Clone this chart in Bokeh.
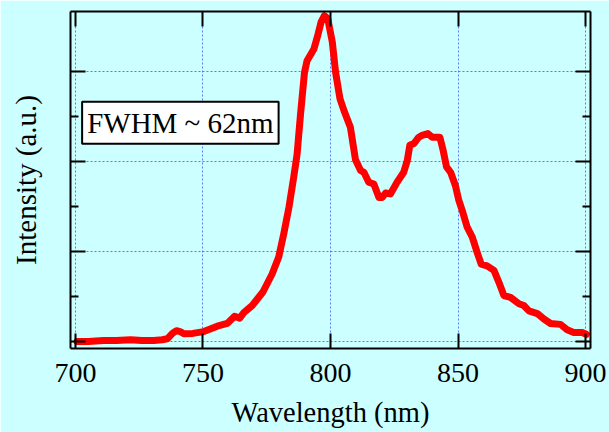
from bokeh.plotting import figure
from bokeh.models import (LinearAxis, FixedTicker, Range1d, Label, ColumnDataSource,
                          CustomJSTickFormatter)
from bokeh.embed import file_html
from bokeh.resources import INLINE

wavelength = [700.6, 705, 711, 716, 721.6, 726, 730.7, 734, 736, 738, 739.6, 741, 742.5, 746,
              750.3, 755.6, 759.5, 762.4, 764.4, 766, 769.3, 773.5, 777.1, 779.7, 781.7, 783.7,
              785.6, 786.9, 788.2, 789.8, 790.8, 793.5, 794.8, 796.3, 797.6, 798.9, 800.7, 802,
              803.7, 805.5, 807.8, 809.8, 811.8, 813.1, 815.0, 817, 819, 820.3, 821.6, 823.5,
              826.1, 828.7, 830.1, 831.1, 832.7, 834.6, 835.9, 838.2, 839.9, 842.9, 844.2, 845.5,
              847.1, 849.0, 850.3, 851.6, 853.6, 855.6, 857.5, 859.1, 861.4, 864.1, 866, 868,
              870.6, 873.9, 875.8, 877.8, 881.1, 883.7, 886.3, 890.2, 892.8, 895.4, 898.7, 900.3]
intensity = [0.0, 0.0, 0.01, 0.01, 0.02, 0.01, 0.01, 0.02, 0.03, 0.09, 0.12, 0.11, 0.085, 0.09,
             0.11, 0.17, 0.2, 0.28, 0.26, 0.32, 0.4, 0.55, 0.75, 0.94, 1.2, 1.49,
             1.83, 2.08, 2.51, 2.99, 3.12, 3.25, 3.38, 3.55, 3.62, 3.59, 3.33, 2.99,
             2.70, 2.55, 2.38, 2.02, 1.90, 1.88, 1.77, 1.75, 1.60, 1.60, 1.65, 1.64,
             1.77, 1.88, 2.01, 2.18, 2.20, 2.27, 2.29, 2.31, 2.27, 2.27, 2.12, 1.94,
             1.88, 1.73, 1.57, 1.46, 1.27, 1.16, 0.99, 0.86, 0.84, 0.79, 0.66, 0.51,
             0.49, 0.42, 0.40, 0.34, 0.31, 0.25, 0.20, 0.19, 0.13, 0.10, 0.10, 0.08]

x_ticks = [700, 750, 800, 850, 900]
y_major = [0, 1, 2, 3]
y_minor = [0.5, 1.5, 2.5]
annotation = "FWHM ~ 62nm"

BG = "#ccffff"
FONT = "Liberation Serif"
GRID = "#5878ff"

p = figure(width=609, height=432, output_backend="svg", toolbar_location=None,
           x_range=Range1d(698.04, 901.96), y_range=Range1d(-0.078, 3.667),
           x_axis_label="Wavelength (nm)", y_axis_label="Intensity (a.u.)",
           min_border_left=70, min_border_right=19, min_border_top=11, min_border_bottom=84)
p.background_fill_color = BG
p.border_fill_color = BG
p.outline_line_color = None

bottom = p.below[0]
left = p.left[0]

xt = FixedTicker(ticks=x_ticks, minor_ticks=[])
yt = FixedTicker(ticks=y_major, minor_ticks=y_minor)

bottom.ticker = xt
left.ticker = yt
p.xgrid.ticker = xt
p.ygrid.ticker = yt
for g in (p.xgrid, p.ygrid):
    g.grid_line_color = GRID
    g.grid_line_dash = "2 2"
    g.grid_line_width = 1

blank = CustomJSTickFormatter(code="return ''")
right = LinearAxis(ticker=yt, formatter=blank)
top = LinearAxis(ticker=xt, formatter=blank)
left.formatter = blank
p.add_layout(right, "right")
p.add_layout(top, "above")

for ax in (bottom, left, right, top):
    ax.axis_line_color = "black"
    ax.axis_line_width = 2
    ax.major_tick_line_color = "black"
    ax.major_tick_line_width = 2
    ax.minor_tick_line_color = "black"
    ax.minor_tick_line_width = 2
    ax.major_tick_in = 15
    ax.major_tick_out = 0
    ax.minor_tick_in = 8
    ax.minor_tick_out = 0
    ax.major_label_text_font = FONT
    ax.axis_label_text_font = FONT
    ax.axis_label_text_font_style = "normal"
    ax.axis_label_text_color = "black"
    ax.major_label_text_color = "black"

for ax in (left, right, top):
    ax.major_label_standoff = 0

bottom.major_label_text_font_size = "28px"
bottom.major_label_standoff = 15
bottom.axis_label_text_font_size = "28.5px"
bottom.axis_label_standoff = 12
left.axis_label_text_font_size = "29px"
left.axis_label_standoff = 29

src = ColumnDataSource(data=dict(x=wavelength, y=intensity))
p.line("x", "y", source=src, line_color="#ff0000", line_width=7,
       line_join="round", line_cap="round")

lab = Label(x=702.6, y=2.43, text=annotation, text_font=FONT, text_font_size="29px",
            text_align="left", text_baseline="middle", text_color="black",
            background_fill_color="white", border_line_color="black", border_line_width=2,
            padding=5)
p.add_layout(lab)

open("out.html", "w").write(file_html(p, INLINE))
